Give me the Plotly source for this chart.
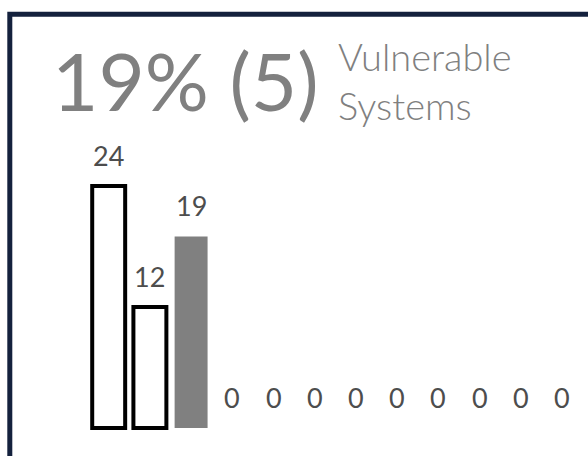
import plotly.graph_objects as go

# Monthly counts of vulnerable systems
categories = list(range(12))
values = [24, 12, 19, 0, 0, 0, 0, 0, 0, 0, 0, 0]
fill_colors = ["#ffffff", "#ffffff", "#808080"] + ["#808080"] * 9
edge_colors = ["#000000", "#000000", "#808080"] + ["#808080"] * 9
edge_widths = [4, 4, 0] + [0] * 9

headline = "19% (5)"
subtitle = "Vulnerable<br>Systems"

W, H = 588, 456
FONT = "Lato"

fig = go.Figure(
    go.Bar(
        x=categories,
        y=values,
        width=0.8,
        marker=dict(
            color=fill_colors,
            line=dict(color=edge_colors, width=edge_widths),
        ),
        hoverinfo="skip",
    )
)

# value labels above each bar
annotations = [
    dict(
        x=c, y=v, xref="x", yref="y", text=str(v), showarrow=False,
        xanchor="center", yanchor="bottom", yshift=12,
        font=dict(family=FONT, size=27, color="#4d4d4d"),
    )
    for c, v in zip(categories, values)
]

# headline figure and caption
annotations.append(dict(
    x=50 / W, y=1 - 80 / H, xref="paper", yref="paper", text=headline,
    showarrow=False, xanchor="left", yanchor="middle",
    font=dict(family=FONT, size=80, color="#808080"),
))
annotations.append(dict(
    x=336 / W, y=1 - 81 / H, xref="paper", yref="paper", text=subtitle,
    showarrow=False, xanchor="left", yanchor="middle", align="left",
    font=dict(family=FONT, size=38, color="#808080", weight=300),
))

fig.update_layout(
    width=W, height=H,
    margin=dict(l=0, r=0, t=0, b=0),
    paper_bgcolor="#ffffff", plot_bgcolor="#ffffff",
    showlegend=False,
    xaxis=dict(visible=False, range=[-2.638, 11.633], fixedrange=True),
    yaxis=dict(visible=False, range=[-2.78, 42.46], fixedrange=True),
    annotations=annotations,
    shapes=[dict(
        type="rect", xref="paper", yref="paper",
        x0=9.8 / W, x1=1.2, y0=-0.2, y1=1 - 14.2 / H,
        line=dict(color="#14213d", width=5), layer="above",
    )],
)

fig.write_html("out.html", config={"displayModeBar": False})
